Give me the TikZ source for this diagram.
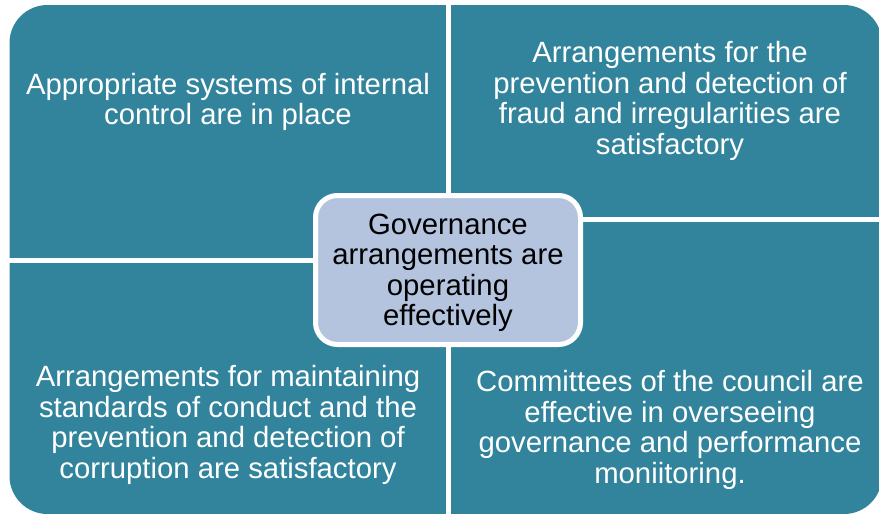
\documentclass[tikz,border=0pt]{standalone}
\usepackage{fontspec}
\setmainfont{Liberation Sans}
\usepackage{tikz}
\usetikzlibrary{positioning}
\definecolor{quadteal}{RGB}{49,132,155}
\definecolor{hubblue}{RGB}{180,195,222}

\begin{document}
\begin{tikzpicture}[x=1pt, y=-1pt,
  quad/.style={fill=quadteal},
  gap/.style={white, line width=5pt},
  quadtext/.style={align=center, text=white, font=\fontsize{29.3}{30.5}\selectfont},
  hub/.style={fill=hubblue, draw=white, line width=5pt, rounded corners=22pt,
    minimum width=265pt, minimum height=149pt, align=center,
    font=\fontsize{29.3}{30.5}\selectfont}]
\useasboundingbox (0,0) rectangle (879,514);

% the four quarters as one rounded block, split by white gaps
\fill [quad, rounded corners=38pt] (9.5,5) rectangle (882,514);

\coordinate (VT) at (448.5,0);
\coordinate (VB) at (448.5,514);
\coordinate (LL) at (0,260.5);
\coordinate (LR) at (448.5,260.5);
\coordinate (RL) at (448.5,219.5);
\coordinate (RR) at (879,219.5);

\foreach \s/\t in {VT/VB,
                   LL/LR,
                   RL/RR}
    \draw [gap] (\s) -- (\t);

\node [quadtext] (Q1) at (228,102) {Appropriate systems of internal\\control are in place};

\node [quadtext] (Q2) at (670,101) {Arrangements for the\\prevention and detection of\\fraud and irregularities are\\satisfactory};

\node [quadtext] (Q3) at (228,425) {Arrangements for maintaining\\standards of conduct and the\\prevention and detection of\\corruption are satisfactory};

\node [quadtext] (Q4) at (670,430) {Committees of the council are\\effective in overseeing\\governance and performance\\moniitoring.};

\node [hub] (C) at (448,270) {};
\node [align=center, font=\fontsize{29.3}{30.5}\selectfont] (CT) at (448,273) {Governance\\arrangements are\\operating\\effectively};

\end{tikzpicture}
\end{document}
